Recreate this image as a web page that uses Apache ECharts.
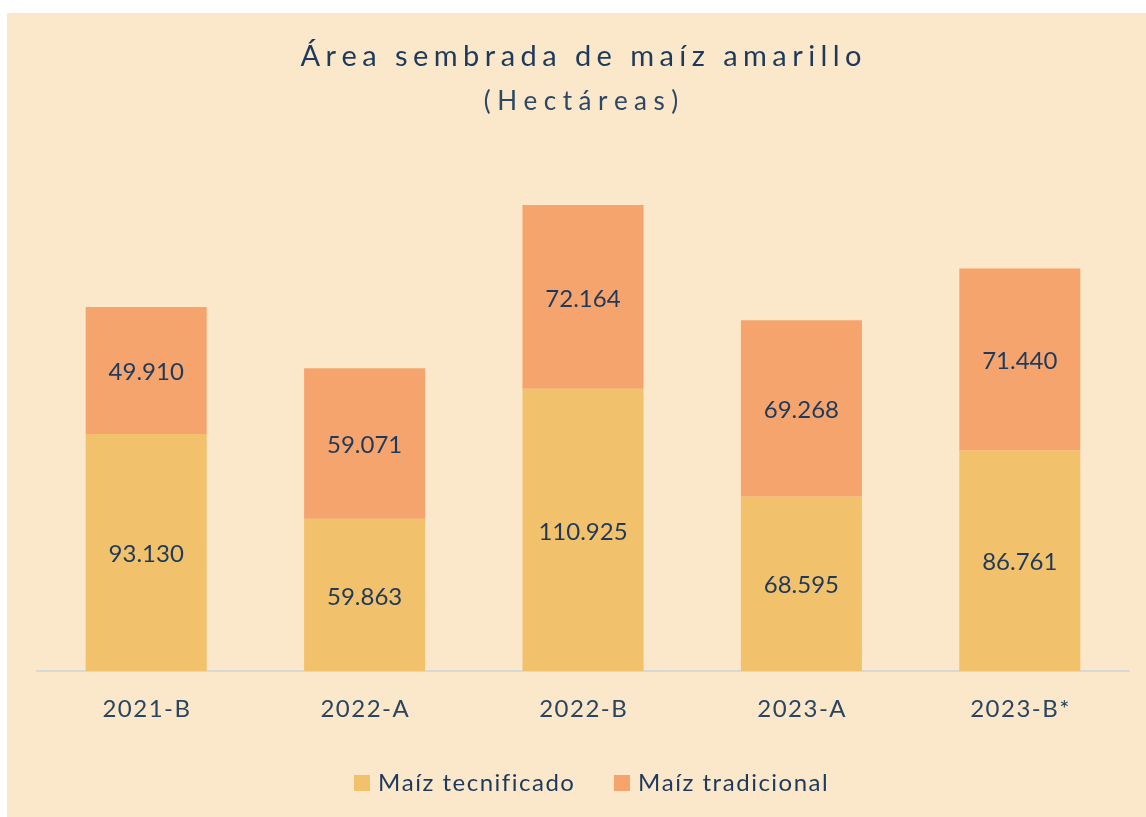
<!DOCTYPE html>
<html>
<head>
<meta charset="utf-8">
<script src="https://cdn.jsdelivr.net/npm/echarts@6/dist/echarts.min.js"></script>
<style>
  html, body { margin: 0; padding: 0; background: #ffffff; }
  #chart { position: absolute; left: 7px; top: 13px; width: 1139px; height: 804px; background: #fbe7c9; }
</style>
</head>
<body>
<div id="chart"></div>
<script>
// datos (hectáreas)
const periodos = ['2021-B', '2022-A', '2022-B', '2023-A', '2023-B*']
const tecnificado = [93130, 59863, 110925, 68595, 86761]
const tradicional = [49910, 59071, 72164, 69268, 71440]

const navy = '#1d3a5c'
const fontFam = 'Lato, "Open Sans", sans-serif'

// espaciado entre letras (canvas no tiene letterSpacing en echarts)
const spaced = (s, sp) => s.split('').join(sp)

// 93130 -> 93.130
const miles = v => String(v).replace(/\B(?=(\d{3})+(?!\d))/g, '.')

const myChart = echarts.init(document.getElementById('chart'))

myChart.setOption({
  backgroundColor: '#fbe7c9',
  title: [
    {
      text: spaced('Área sembrada de maíz amarillo', '\u2009\u200A'),
      left: 569,
      textAlign: 'center',
      top: 24,
      textStyle: { color: navy, fontFamily: fontFam, fontSize: 29, fontWeight: 'normal' }
    },
    {
      text: spaced('(Hectáreas)', '\u2009\u2009'),
      left: 569,
      textAlign: 'center',
      top: 71,
      textStyle: { color: '#2d4866', fontFamily: fontFam, fontSize: 26, fontWeight: 'normal' }
    }
  ],
  legend: {
    left: 342,
    top: 753,
    icon: 'rect',
    itemWidth: 16,
    itemHeight: 16,
    itemGap: 40,
    textStyle: { color: navy, fontFamily: fontFam, fontSize: 24 },
    formatter: n => '\u2009' + spaced(n, '\u200A'),
    data: ['Maíz tecnificado', 'Maíz tradicional']
  },
  grid: { left: 30, right: 17, top: 149, bottom: 146 },
  xAxis: {
    type: 'category',
    data: periodos,
    axisLine: { lineStyle: { color: '#d6d8da', width: 2 } },
    axisTick: { show: false },
    axisLabel: {
      margin: 26,
      color: '#2a4561',
      fontFamily: fontFam,
      fontSize: 24,
      formatter: v => spaced(v, '\u200A')
    }
  },
  yAxis: {
    type: 'value',
    min: 0,
    max: 200000,
    show: false,
    splitLine: { show: false }
  },
  series: [
    {
      name: 'Maíz tecnificado',
      type: 'bar',
      stack: 'total',
      barWidth: 121,
      data: tecnificado,
      itemStyle: { color: '#f2c16b' },
      label: {
        show: true,
        position: 'inside',
        offset: [0, 2],
        color: navy,
        fontFamily: fontFam,
        fontSize: 24,
        formatter: p => miles(p.value)
      }
    },
    {
      name: 'Maíz tradicional',
      type: 'bar',
      stack: 'total',
      barWidth: 121,
      data: tradicional,
      itemStyle: { color: '#f5a46e' },
      label: {
        show: true,
        position: 'inside',
        offset: [0, 2],
        color: navy,
        fontFamily: fontFam,
        fontSize: 24,
        formatter: p => miles(p.value)
      }
    }
  ]
})
</script>
</body>
</html>
